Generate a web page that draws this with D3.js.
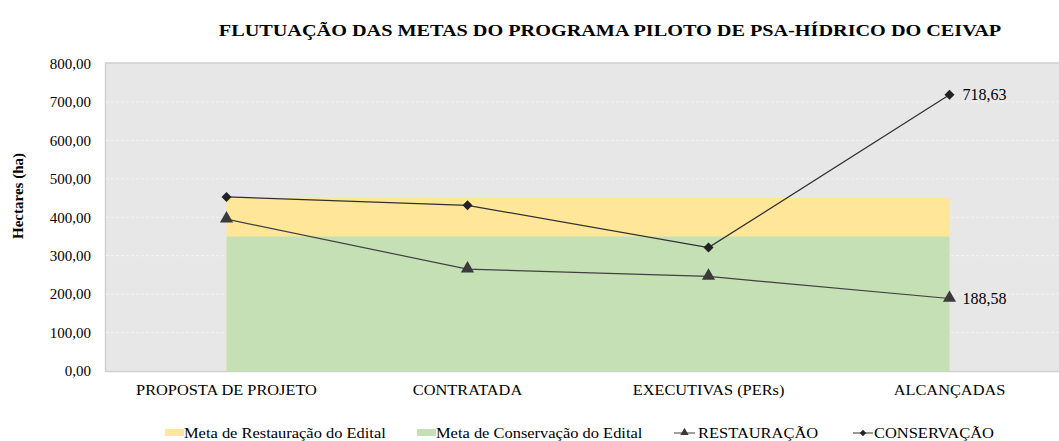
<!DOCTYPE html>
<html>
<head>
<meta charset="utf-8">
<script src="https://cdn.jsdelivr.net/npm/d3@7"></script>
<style>
  body { margin: 0; background: #fff; }
  text { font-family: "Liberation Serif", "Times New Roman", serif; fill: #000; }
</style>
</head>
<body>
<svg width="1059" height="441"></svg>
<script>
const categories = ["PROPOSTA DE PROJETO", "CONTRATADA", "EXECUTIVAS (PERs)", "ALCANÇADAS"]
const metaRestauracao = [450, 450, 450, 450]
const metaConservacao = [350, 350, 350, 350]
const restauracao = [395, 265, 246, 188.58]
const conservacao = [453, 431, 321, 718.63]
const yTicks = [0, 100, 200, 300, 400, 500, 600, 700, 800]

const svg = d3.select("svg"),
    width = +svg.attr("width"),
    height = +svg.attr("height");

const plot = { left: 106, right: 1070, top: 63.5, bottom: 371 };

const ptBR = d3.formatLocale({ decimal: ",", thousands: ".", grouping: [3], currency: ["R$", ""] });
const fmt = ptBR.format(".2f");

const x = d3.scaleBand().domain(categories).range([plot.left, plot.right]).padding(0);
const y = d3.scaleLinear().domain([0, 800]).range([plot.bottom, plot.top]);
const cx = (i) => x(categories[i]) + x.bandwidth() / 2;

// text that is a little wider than the font, like the original picture
function wideText(parent, tx, ty, str, size, sx, anchor, bold) {
  const g = parent.append("g").attr("transform", "translate(" + tx + "," + ty + ") scale(" + sx + ",1)");
  return g.append("text")
    .attr("text-anchor", anchor || "start")
    .attr("font-size", size)
    .attr("font-weight", bold ? "bold" : "normal")
    .text(str);
}

// plot background
svg.append("rect")
  .attr("x", plot.left - 0.5).attr("y", plot.top - 0.5)
  .attr("width", plot.right - plot.left).attr("height", plot.bottom - plot.top + 1)
  .attr("fill", "#e7e7e7").attr("stroke", "#d0d0d0").attr("stroke-width", 1.5);

// gridlines
svg.append("g").selectAll("line")
  .data(yTicks.filter((t) => t > 0 && t < 800))
  .enter().append("line")
  .attr("x1", plot.left).attr("x2", plot.right)
  .attr("y1", (t) => y(t)).attr("y2", (t) => y(t))
  .attr("stroke", "#f6f6f6").attr("stroke-width", 0.8).attr("stroke-dasharray", "3,2");

// meta areas
const area = (vals) => d3.area()
  .x((d, i) => cx(i))
  .y0(y(0))
  .y1((d) => y(d))(vals);

svg.append("path").attr("d", area(metaRestauracao)).attr("fill", "#ffe699");
svg.append("path").attr("d", area(metaConservacao)).attr("fill", "#c5e0b4");

// y axis labels
const yAxis = svg.append("g")
  .attr("transform", "translate(" + 100 + ",0)")
  .call(d3.axisLeft(y).tickValues(yTicks).tickFormat(fmt).tickSize(0).tickPadding(9));
yAxis.select(".domain").remove();
yAxis.selectAll("text").attr("font-size", 15).attr("fill", "#000");

svg.append("text")
  .attr("transform", "translate(23," + 196 + ") rotate(-90)")
  .attr("text-anchor", "middle")
  .attr("font-size", 15).attr("font-weight", "bold")
  .text("Hectares (ha)");

// x category labels
const xLabels = svg.append("g");
categories.forEach((c, i) => wideText(xLabels, cx(i), 395, c, 15, 1.09, "middle"));

// series lines
const line = d3.line().x((d, i) => cx(i)).y((d) => y(d));

svg.append("path").attr("d", line(restauracao))
  .attr("fill", "none").attr("stroke", "#404040").attr("stroke-width", 1.2);
svg.append("path").attr("d", line(conservacao))
  .attr("fill", "none").attr("stroke", "#303030").attr("stroke-width", 1.2);

const tri = d3.symbol().type(d3.symbolTriangle).size(75);
const dia = d3.symbol().type(d3.symbolSquare).size(50);

svg.append("g").selectAll("path")
  .data(restauracao)
  .enter().append("path")
  .attr("d", tri)
  .attr("transform", (d, i) => "translate(" + cx(i) + "," + (y(d) - 0.5) + ")")
  .attr("fill", "#3a3a3a");

svg.append("g").selectAll("path")
  .data(conservacao)
  .enter().append("path")
  .attr("d", dia)
  .attr("transform", (d, i) => "translate(" + cx(i) + "," + y(d) + ") rotate(45)")
  .attr("fill", "#222");

// last point labels
const last = categories.length - 1;
[restauracao, conservacao].forEach((s) => {
  svg.append("text")
    .attr("x", cx(last) + 13)
    .attr("y", y(s[last]) + 5.5)
    .attr("font-size", 16)
    .text(fmt(s[last]));
});

// title
wideText(svg, 610, 36, "FLUTUAÇÃO DAS METAS DO PROGRAMA PILOTO DE PSA-HÍDRICO DO CEIVAP", 17, 1.19, "middle", true);

// legend
const legend = svg.append("g").attr("transform", "translate(0,438)");
legend.append("rect").attr("x", 165).attr("y", -9).attr("width", 19).attr("height", 7).attr("fill", "#ffe699");
wideText(legend, 184, 0, "Meta de Restauração do Edital", 14, 1.175);
legend.append("rect").attr("x", 417).attr("y", -9).attr("width", 19).attr("height", 7).attr("fill", "#c5e0b4");
wideText(legend, 436, 0, "Meta de Conservação do Edital", 14, 1.175);
legend.append("line").attr("x1", 674).attr("x2", 695).attr("y1", -5).attr("y2", -5).attr("stroke", "#404040");
legend.append("path").attr("d", d3.symbol().type(d3.symbolTriangle).size(30))
  .attr("transform", "translate(684.5,-5.5)").attr("fill", "#3a3a3a");
wideText(legend, 698, 0, "RESTAURAÇÃO", 14, 1.175);
legend.append("line").attr("x1", 853).attr("x2", 873).attr("y1", -5).attr("y2", -5).attr("stroke", "#303030");
legend.append("path").attr("d", d3.symbol().type(d3.symbolSquare).size(20))
  .attr("transform", "translate(863,-5) rotate(45)").attr("fill", "#222");
wideText(legend, 874, 0, "CONSERVAÇÃO", 14, 1.175);
</script>
</body>
</html>
